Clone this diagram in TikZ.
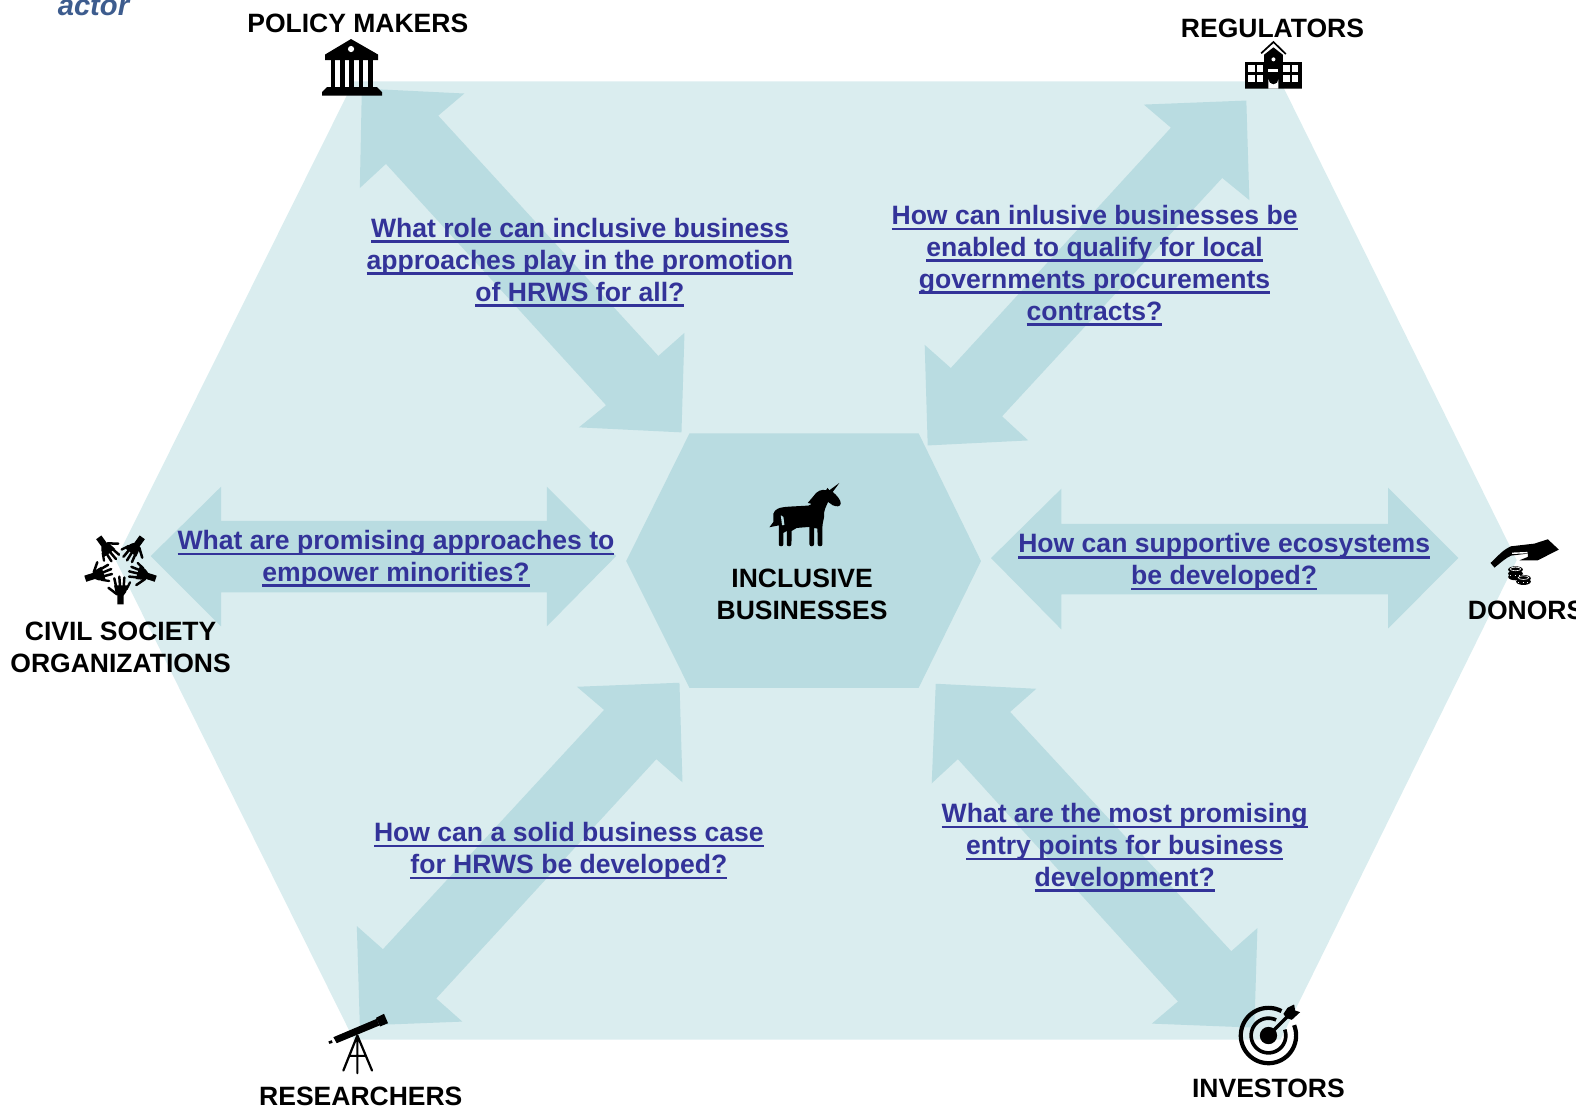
\documentclass[tikz,border=0pt]{standalone}
\usepackage{fontspec}
\setmainfont{Liberation Sans}
\definecolor{hexlight}{HTML}{DAEDEF}
\definecolor{hexdark}{HTML}{B9DCE1}
\definecolor{linkblue}{HTML}{333399}
\definecolor{actorblue}{HTML}{3D5C8E}
\newcommand\ulline[1]{\setbox0\hbox{#1}\rlap{\raisebox{-2.8pt}{\rule{\wd0}{1.25pt}}}\box0}
\newcommand\handicon{%
  \fill (-3.2,37) -- (3.2,37) -- (3.2,28) -- (5.5,25) -- (8,18) -- (-6.5,18) -- (-5,25) -- (-3.2,28) -- cycle;
  \draw[line width=1.25pt,line cap=round] (-4.2,20) -- (-6.2,11);
  \draw[line width=1.25pt,line cap=round] (-0.4,20) -- (-1.2,9.4);
  \draw[line width=1.25pt,line cap=round] (3.2,20) -- (3.8,10.2);
  \draw[line width=1.15pt,line cap=round] (6,22) -- (9.5,15);
  \draw[line width=1.25pt,line cap=round] (-3.5,27) -- (-12,20.5);
}
\tikzset{
  x=0.5025pt,y=-0.5027pt,
  bighex/.style={fill=hexlight,draw=none},
  flow/.style={fill=hexdark,draw=none},
  label/.style={font=\bfseries\fontsize{13.25}{15.95}\selectfont,text=black,align=center,inner sep=0pt},
  question/.style={font=\bfseries\fontsize{13.28}{15.95}\selectfont,text=linkblue,align=center,inner sep=0pt},
  zs/.style n args={2}{shift={(#1,#2)},scale=0.3333},
}
\begin{document}
\begin{tikzpicture}
\useasboundingbox (0,0) rectangle (1568,1104);
% outer hexagon
\fill[bighex] (352,81) -- (1274,81) -- (1509,557) -- (1274,1034) -- (352,1034) -- (115,557) -- cycle;
% double arrows
\fill[flow] (360,88) -- (462,93) -- (436,115) -- (655,354) -- (681,331) -- (678,430) -- (576,425) -- (603,403) -- (384,163) -- (358,187) -- cycle;
\fill[flow] (1240,100) -- (1243,199) -- (1216,177) -- (997,414) -- (1023,438) -- (923,443) -- (920,343) -- (946,366) -- (1165,127) -- (1138,104) -- cycle;
\fill[flow] (150,553) -- (220,484) -- (220,518) -- (544,518) -- (544,484) -- (613,553) -- (544,623) -- (544,589) -- (220,589) -- (220,623) -- cycle;
\fill[flow] (986,555) -- (1056,486) -- (1056,521) -- (1381,521) -- (1381,485) -- (1451,555) -- (1381,625) -- (1381,591) -- (1056,591) -- (1056,626) -- cycle;
\fill[flow] (676,679) -- (679,778) -- (653,755) -- (434,993) -- (460,1016) -- (358,1020) -- (355,921) -- (381,944) -- (601,706) -- (574,683) -- cycle;
\fill[flow] (931,680) -- (1031,685) -- (1005,708) -- (1225,946) -- (1251,923) -- (1248,1022) -- (1146,1018) -- (1172,996) -- (953,755) -- (927,779) -- cycle;
% centre hexagon
\fill[flow] (686,431) -- (914,431) -- (976,558) -- (914,684) -- (686,684) -- (623,558) -- cycle;
% icons, in full-size reference pixels
\begin{scope}[scale=0.99502]
% bank
\fill (351,39) -- (378,54.5) -- (378,60) -- (325,60) -- (325,54.5) -- cycle;
\fill[white] (351,49) circle[radius=3.1];
\foreach \cx in {333,342.3,351.5,361,370.5}{\fill (\cx-2.2,60) rectangle (\cx+2.2,88);}
\fill (327,87) -- (377,87) -- (382,92) -- (382,95.5) -- (322,95.5) -- (322,92) -- cycle;
% school
\begin{scope}[zs={1150}{0}]
\draw[line width=0.85pt] (333,160) -- (370,126) -- (407,162);
\fill (370,142) -- (398,164) -- (398,186) -- (455,186) -- (455,266) -- (285,266) -- (285,186) -- (342,186) -- (342,164) -- cycle;
\fill[white] (370,178) circle[radius=6];
\fill[white] (355,208) rectangle (385,216);
\fill[white] (355,266) -- (355,238) arc[start angle=180,end angle=0,radius=15] -- (385,266) -- cycle;
\foreach \wx in {295,320,400,425}{\foreach \wy in {196,226}{\fill[white] (\wx,\wy) rectangle (\wx+20,\wy+20);}}
\end{scope}
% five hands
\foreach \ang in {0,72,144,216,288}{
  \begin{scope}[shift={(120.5,567)},rotate=\ang]
  \handicon
  \end{scope}
}
% giving hand and coins
\begin{scope}[zs={1456}{510}]
\fill (103,158) .. controls (125,138) and (140,118) .. (165,108) -- (235,100) -- (275,87) -- (308,118) -- (245,150) -- (190,150) -- (215,140) -- (215,130) -- (165,136) .. controls (150,142) and (130,160) .. (115,172) -- cycle;
\draw[white,line width=0.7pt] (168,129) -- (214,127);
\foreach \ccx/\ccy in {178/178,178/190,178/200,202/204,202/214}{
  \fill (\ccx,\ccy) circle[x radius=22,y radius=10];
}
\foreach \ccx/\ccy in {178/176,202/202}{
  \draw[white,line width=0.3pt] (\ccx,\ccy) circle[x radius=16,y radius=5.5];
}
\draw[white,line width=0.3pt,dotted] (162,196) -- (194,196) (186,216) -- (218,216);
\end{scope}
% unicorn
\begin{scope}[zs={740}{460}]
\fill (298,68) -- (278,95) .. controls (290,105) and (303,120) .. (302,130) .. controls (300,140) and (290,140) .. (278,135) -- (264,125) .. controls (258,140) and (250,150) .. (252,170) -- (248,190) -- (247,200) -- (247,252) .. controls (247,260) and (233,260) .. (233,252) -- (232,205) -- (222,203) -- (222,252) .. controls (222,260) and (208,260) .. (208,252) -- (208,200) -- (170,203) -- (155,212) -- (154,252) .. controls (154,260) and (140,260) .. (140,252) -- (140,212) -- (130,218) -- (130,252) .. controls (130,260) and (116,260) .. (116,252) -- (116,195) -- (113,196) -- (88,201) -- (100,185) -- (100,160) .. controls (105,146) and (115,141) .. (150,139) -- (205,136) -- (215,131) -- (203,128) -- (220,108) .. controls (230,92) and (245,86) .. (258,90) -- (262,83) -- (268,90) -- cycle;
\fill[hexdark] (130,170) -- (122,165) -- (126,195) -- (133,194) -- cycle;
\end{scope}
% telescope
\begin{scope}[zs={300}{990}]
\fill (100,140) -- (230,85) -- (238,105) -- (110,158) -- cycle;
\fill (228,82) -- (252,70) -- (264,98) -- (240,108) -- cycle;
\fill (85,153) -- (95,149) -- (98,157) -- (88,160) -- cycle;
\draw[line width=1.1pt,line cap=round] (172,135) -- (130,240) (172,135) -- (172,248) (172,135) -- (216,240) (152,196) -- (194,196);
\end{scope}
% target
\begin{scope}[zs={1200}{980}]
\draw[line width=2.1pt,samples=60,domain=62:382] plot ({205+83*cos(\x)},{165-83*sin(\x)});
\draw[line width=1.8pt,samples=50,domain=64:380] plot ({205+52*cos(\x)},{165-52*sin(\x)});
\fill (205,165) circle[radius=26];
\draw[line width=1.6pt] (205,165) -- (268,102);
\fill (262,82) -- (282,72) -- (285,90) -- (300,95) -- (275,118) -- (258,112) -- (250,100) -- cycle;
\end{scope}
\end{scope}
% labels
\node[font=\bfseries\itshape\fontsize{14.6}{17}\selectfont,text=actorblue,inner sep=0pt] (actor) at (93,6) {actor};
\node[label] (policy) at (356,23) {POLICY MAKERS};
\node[label] (regulators) at (1266,28) {REGULATORS};
\node[label] (civil) at (120,644) {CIVIL SOCIETY\\ORGANIZATIONS};
\node[label,anchor=west] (donors) at (1460,607) {DONORS};
\node[label] (researchers) at (359,1090) {RESEARCHERS};
\node[label] (investors) at (1262,1082) {INVESTORS};
\node[label] (inclusive) at (798,591) {INCLUSIVE\\BUSINESSES};
% questions
\node[question] (q1) at (577,261) {\ulline{What role can inclusive business}\\\ulline{approaches play in the promotion}\\\ulline{of HRWS for all?}};
\node[question] (q2) at (1089,264) {\ulline{How can inlusive businesses be}\\\ulline{enabled to qualify for local}\\\ulline{governments procurements}\\\ulline{contracts?}};
\node[question] (q3) at (394,555.5) {\ulline{What are promising approaches to}\\\ulline{empower minorities?}};
\node[question] (q4) at (1218,559) {\ulline{How can supportive ecosystems}\\\ulline{be developed?}};
\node[question] (q5) at (566,846) {\ulline{How can a solid business case}\\\ulline{for HRWS be developed?}};
\node[question] (q6) at (1119,843) {\ulline{What are the most promising}\\\ulline{entry points for business}\\\ulline{development?}};
\end{tikzpicture}
\end{document}
